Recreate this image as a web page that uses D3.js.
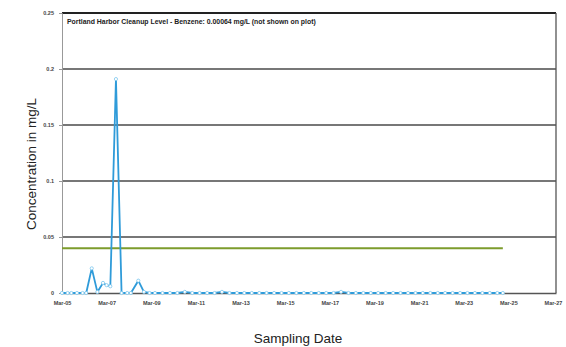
<!DOCTYPE html>
<html>
<head>
<meta charset="utf-8">
<script src="https://cdn.jsdelivr.net/npm/d3@7"></script>
<style>
  body { margin: 0; background: #fff; }
  svg { display: block; font-family: "Liberation Sans", Arial, sans-serif; }
</style>
</head>
<body>
<svg id="chart" width="566" height="347"></svg>
<script>
// sampling dates (yyyy-mm) and benzene results in mg/L
var sampleDates = [
  "2005-03", "2005-06", "2005-08", "2005-11", "2006-02", "2006-04",
  "2006-07", "2006-10", "2007-01", "2007-03", "2007-05", "2007-08",
  "2007-11", "2008-02", "2008-04", "2008-08", "2008-11", "2009-02",
  "2009-05", "2009-09", "2010-01", "2010-05", "2010-09", "2011-01",
  "2011-05", "2011-09", "2012-01", "2012-05", "2012-09", "2013-01",
  "2013-05", "2013-09", "2014-01", "2014-05", "2014-09", "2015-01",
  "2015-05", "2015-09", "2016-01", "2016-05", "2016-09", "2017-01",
  "2017-05", "2017-09", "2018-01", "2018-05", "2018-09", "2019-01",
  "2019-05", "2019-09", "2020-01", "2020-05", "2020-09", "2021-01",
  "2021-05", "2021-09", "2022-01", "2022-05", "2022-09", "2023-01",
  "2023-05", "2023-09", "2024-01", "2024-05", "2024-09", "2024-12"
];
var benzene = [
  0, 0, 0, 0, 0, 0,
  0.022, 0.001, 0.009, 0.007, 0.006, 0.191,
  0, 0, 0, 0.011, 0.001, 0,
  0, 0, 0, 0, 0.001, 0,
  0, 0, 0, 0.001, 0, 0,
  0, 0, 0, 0, 0, 0,
  0, 0, 0, 0, 0, 0,
  0, 0.001, 0, 0, 0, 0,
  0, 0, 0, 0, 0, 0,
  0, 0, 0, 0, 0, 0,
  0, 0, 0, 0, 0, 0
];
// screening level drawn as a flat line
var screeningLevel = 0.04;
var yTicks = [0, 0.05, 0.1, 0.15, 0.2, 0.25];
var xTickYears = [2005, 2007, 2009, 2011, 2013, 2015, 2017, 2019, 2021, 2023, 2025, 2027];
var noteText = "Portland Harbor Cleanup Level - Benzene: 0.00064  mg/L (not shown on plot)";

(function () {
  var parse = d3.timeParse("%Y-%m");
  var data = sampleDates.map(function (d, i) { return { date: parse(d), value: benzene[i] }; });

  var svg = d3.select("#chart");
  var plotL = 62, plotR = 556, plotT = 13, plotB = 293;

  var x = d3.scaleTime()
    .domain([new Date(2005, 2, 1), new Date(2027, 3, 20)])
    .range([plotL, plotR]);
  var y = d3.scaleLinear().domain([0, 0.25]).range([plotB, plotT]);

  // gridlines (top one doubles as the frame)
  svg.append("g").selectAll("line")
    .data(yTicks.filter(function (t) { return t > 0; }))
    .enter().append("line")
    .attr("x1", plotL).attr("x2", plotR)
    .attr("y1", function (d) { return y(d); })
    .attr("y2", function (d) { return y(d); })
    .attr("stroke", function (d) { return d === 0.25 ? "#222" : "#4a4a4a"; })
    .attr("stroke-width", function (d) { return d === 0.25 ? 1.8 : 1.3; });

  // right border
  svg.append("line")
    .attr("x1", plotR).attr("x2", plotR).attr("y1", plotT).attr("y2", plotB)
    .attr("stroke", "#555").attr("stroke-width", 1.3);

  // y axis
  var yAxis = d3.axisLeft(y)
    .tickValues(yTicks)
    .tickSize(3)
    .tickFormat(function (d) { return d === 0 ? "0" : String(+d.toFixed(2)); });
  var gy = svg.append("g").attr("transform", "translate(" + plotL + ",0)").call(yAxis);
  gy.select(".domain").attr("stroke", "#999").attr("stroke-width", 1);
  gy.selectAll(".tick line").attr("stroke", "#999");
  gy.selectAll("text").attr("font-size", 5.5).attr("fill", "#444").attr("font-weight", "bold").attr("x", -8);

  // x axis
  var xAxis = d3.axisBottom(x)
    .tickValues(xTickYears.map(function (yr) { return new Date(yr, 2, 1); }))
    .tickSize(0)
    .tickFormat(d3.timeFormat("Mar-%y"));
  var gx = svg.append("g").attr("transform", "translate(0," + plotB + ")").call(xAxis);
  gx.select(".domain").attr("stroke", "#555").attr("stroke-width", 1.3);
  gx.selectAll("text").attr("font-size", 5.5).attr("fill", "#444").attr("font-weight", "bold").attr("dy", "1.6em");

  // screening level line
  svg.append("line")
    .attr("x1", x(data[0].date)).attr("x2", x(data[data.length - 1].date))
    .attr("y1", y(screeningLevel)).attr("y2", y(screeningLevel))
    .attr("stroke", "#7d9c2c").attr("stroke-width", 2);

  // benzene series
  var line = d3.line()
    .x(function (d) { return x(d.date); })
    .y(function (d) { return y(d.value); });
  svg.append("path").datum(data)
    .attr("d", line)
    .attr("fill", "none")
    .attr("stroke", "#2f9bd9")
    .attr("stroke-width", 1.8);
  svg.append("g").selectAll("circle")
    .data(data)
    .enter().append("circle")
    .attr("cx", function (d) { return x(d.date); })
    .attr("cy", function (d) { return y(d.value); })
    .attr("r", 1.6)
    .attr("fill", "#fff")
    .attr("stroke", "#7cc6ee")
    .attr("stroke-width", 0.8);

  // note text
  svg.append("text")
    .attr("x", 67).attr("y", 24)
    .attr("font-size", 6.9).attr("font-weight", "bold").attr("fill", "#222")
    .text(noteText);

  // axis titles
  svg.append("text")
    .attr("transform", "translate(36,164) rotate(-90)")
    .attr("text-anchor", "middle")
    .attr("font-size", 13.5).attr("fill", "#222")
    .text("Concentration in mg/L");
  svg.append("text")
    .attr("x", 298).attr("y", 343)
    .attr("text-anchor", "middle")
    .attr("font-size", 13.5).attr("fill", "#222")
    .text("Sampling Date");
})();
</script>
</body>
</html>
